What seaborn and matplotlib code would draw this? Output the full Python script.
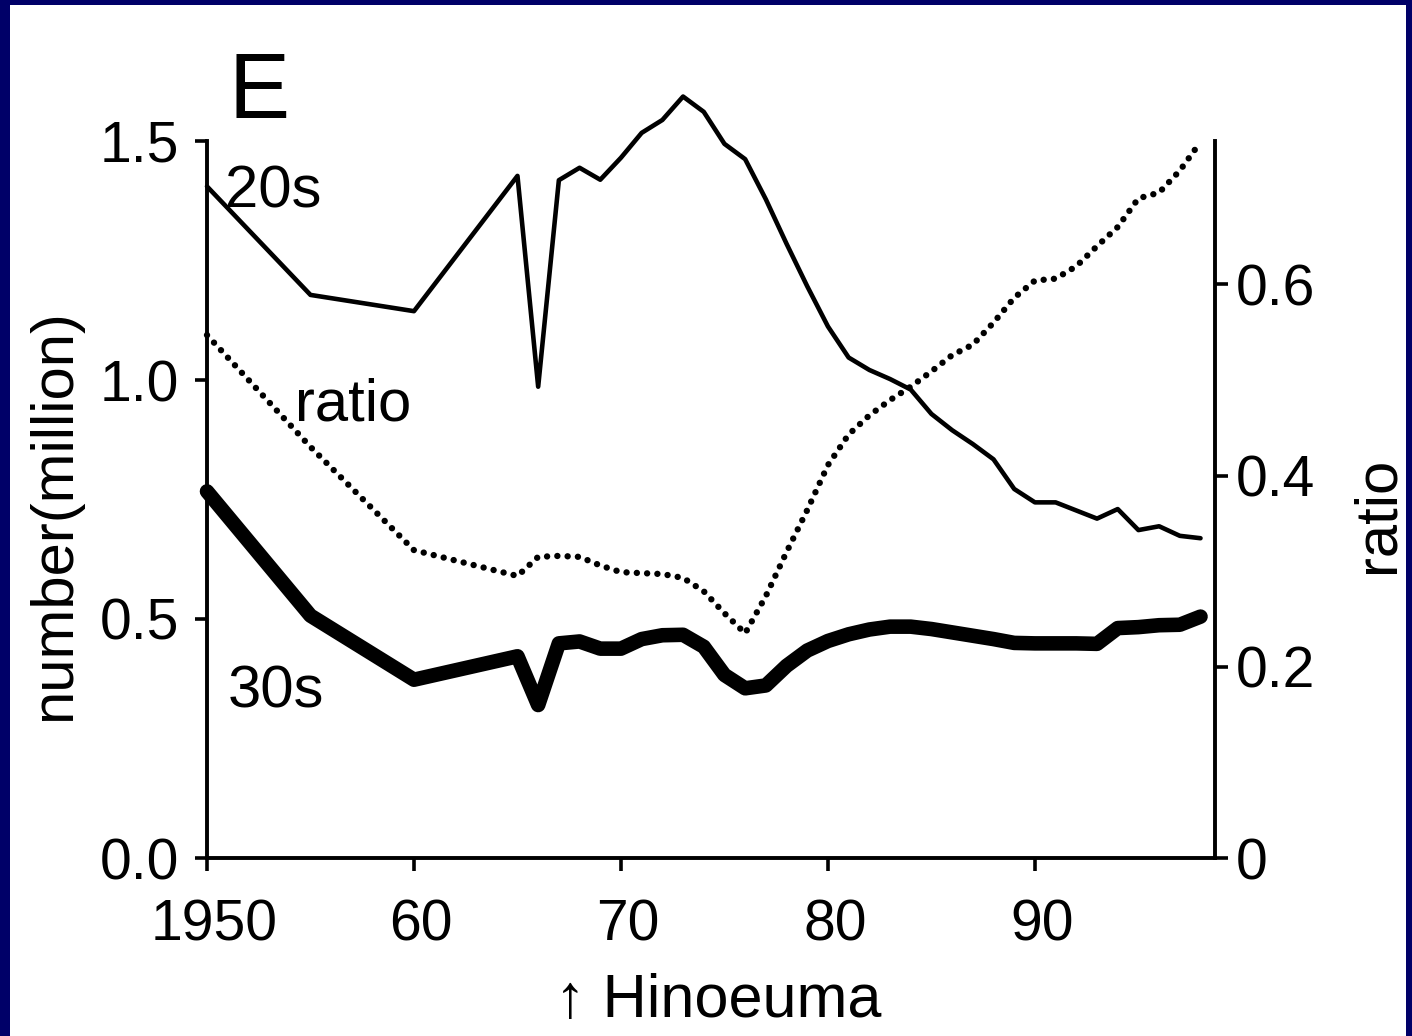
import matplotlib
matplotlib.use("Agg")
import matplotlib.pyplot as plt
import matplotlib.transforms as mtransforms
import seaborn as sns
import pandas as pd
from matplotlib.patches import Rectangle

# ---------------- data ----------------
years = [1950, 1955, 1960, 1965, 1966, 1967, 1968, 1969, 1970, 1971, 1972,
         1973, 1974, 1975, 1976, 1977, 1978, 1979, 1980, 1981, 1982, 1983,
         1984, 1985, 1986, 1987, 1988, 1989, 1990, 1991, 1992, 1993, 1994,
         1995, 1996, 1997, 1998]

twenties = [1.405, 1.178, 1.144, 1.427, 0.986, 1.418, 1.444, 1.419, 1.465,
            1.517, 1.544, 1.593, 1.561, 1.494, 1.462, 1.378, 1.285, 1.196,
            1.112, 1.047, 1.021, 1.002, 0.980, 0.929, 0.895, 0.866, 0.834,
            0.772, 0.744, 0.744, 0.727, 0.710, 0.730, 0.686, 0.694, 0.674,
            0.669]

thirties = [0.767, 0.507, 0.373, 0.422, 0.320, 0.449, 0.453, 0.438, 0.438,
            0.458, 0.466, 0.467, 0.442, 0.383, 0.355, 0.361, 0.402, 0.434,
            0.454, 0.468, 0.478, 0.484, 0.484, 0.479, 0.472, 0.465, 0.458,
            0.450, 0.449, 0.449, 0.449, 0.448, 0.481, 0.483, 0.487, 0.488,
            0.505]

ratio = [0.547, 0.430, 0.322, 0.295, 0.315, 0.316, 0.315, 0.306, 0.299,
         0.298, 0.297, 0.293, 0.279, 0.256, 0.235, 0.274, 0.320, 0.364,
         0.411, 0.443, 0.463, 0.479, 0.493, 0.509, 0.526, 0.537, 0.560,
         0.586, 0.604, 0.606, 0.619, 0.640, 0.660, 0.690, 0.696, 0.719,
         0.749]

x_ticks = [1950, 1960, 1970, 1980, 1990]
x_tick_labels = ["1950", "60", "70", "80", "90"]
left_ticks = [0.0, 0.5, 1.0, 1.5]
left_tick_labels = ["0.0", "0.5", "1.0", "1.5"]
right_ticks = [0.0, 0.2, 0.4, 0.6]
right_tick_labels = ["0", "0.2", "0.4", "0.6"]

df = pd.DataFrame({"year": years, "twenties": twenties,
                   "thirties": thirties, "ratio": ratio})

# ---------------- style ----------------
sns.set_style("ticks")
plt.rcParams["font.family"] = ["Liberation Sans", "DejaVu Sans"]
plt.rcParams["text.color"] = "black"

W, H = 1412, 1036
fig = plt.figure(figsize=(W / 100, H / 100), dpi=100)
fig.patch.set_facecolor("#000068")
bg = Rectangle((10 / W, 0), (W - 16) / W, (H - 5) / H,
               transform=fig.transFigure, facecolor="white",
               edgecolor="none", zorder=-10)
fig.patches.append(bg)

def fx(px):
    return px / W

def fy(py):
    return 1 - py / H

left, right, top, bottom = 207, 1215, 141, 858
ax = fig.add_axes([fx(left), fy(bottom), (right - left) / W, (bottom - top) / H])
ax.set_facecolor("none")
ax2 = ax.twinx()
ax2.set_facecolor("none")

sns.lineplot(data=df, x="year", y="twenties", ax=ax, color="black",
             linewidth=3.3, estimator=None, sort=False, clip_on=False)
sns.lineplot(data=df, x="year", y="thirties", ax=ax, color="black",
             linewidth=10.5, estimator=None, sort=False, clip_on=False)
sns.lineplot(data=df, x="year", y="ratio", ax=ax2, color="black",
             linewidth=4.6, estimator=None, sort=False, clip_on=False)
for ln in ax2.lines:
    ln.set_linestyle((0, (0.01, 1.6)))
    ln.set_dash_capstyle("round")

ax.set_xlim(1950, 1998.7)
ax.set_ylim(0, 1.5)
ax2.set_ylim(0, 0.75)

ax.set_xticks(x_ticks)
ax.set_xticklabels(x_tick_labels)
ax.set_yticks(left_ticks)
ax.set_yticklabels(left_tick_labels)
ax2.set_yticks(right_ticks)
ax2.set_yticklabels(right_tick_labels)

ax.set_xlabel("")
ax.set_ylabel("")
ax2.set_ylabel("")

for a in (ax, ax2):
    a.spines["top"].set_visible(False)
    for s in a.spines.values():
        s.set_linewidth(2.8)
        s.set_color("black")
ax.spines["right"].set_visible(False)
ax2.spines["left"].set_visible(False)
ax2.spines["bottom"].set_visible(False)

ax.tick_params(axis="x", direction="out", length=9, width=2.6, pad=20,
               labelsize=41, colors="black")
ax.tick_params(axis="y", direction="out", length=9, width=2.6, pad=11,
               labelsize=41, colors="black")
ax2.tick_params(axis="y", direction="out", length=9, width=2.6, pad=6,
                labelsize=41, colors="black")

shift = mtransforms.ScaledTranslation(7 / 100, 0, fig.dpi_scale_trans)
for lbl in ax.get_xticklabels():
    lbl.set_transform(lbl.get_transform() + shift)

# ---------------- texts ----------------
fig.text(fx(228), fy(118), "E", fontsize=66, ha="left", va="baseline")
fig.text(fx(225), fy(207), "20s", fontsize=43, ha="left", va="baseline")
fig.text(fx(295), fy(420), "ratio", fontsize=43, ha="left", va="baseline")
fig.text(fx(228), fy(708), "30s", fontsize=43, ha="left", va="baseline")
fig.text(fx(718), fy(1017), "\u2191 Hinoeuma", fontsize=44, ha="center",
         va="baseline")
fig.text(fx(55), fy(515), "number(million)", fontsize=43, rotation=90,
         ha="center", va="center")
fig.text(fx(1378), fy(515), "ratio", fontsize=43, rotation=90,
         ha="center", va="center")

fig.savefig("out.png", dpi=100, facecolor=fig.get_facecolor())
